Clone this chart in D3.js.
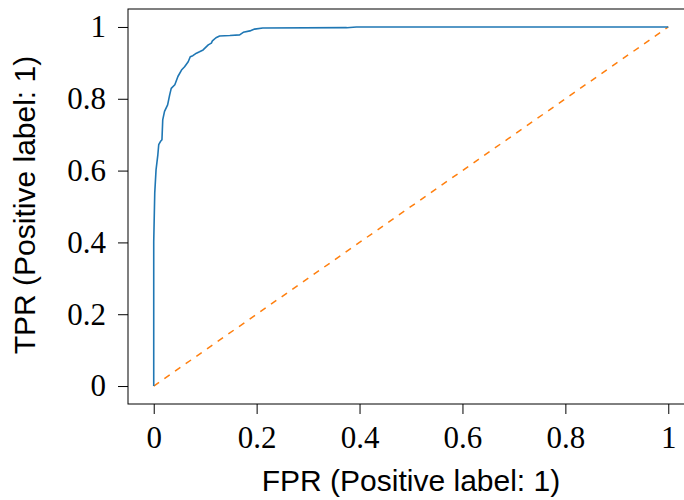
<!DOCTYPE html>
<html>
<head>
<meta charset="utf-8">
<script src="https://cdn.jsdelivr.net/npm/d3@7"></script>
<style>
  body { margin: 0; background: #fff; }
</style>
</head>
<body>
<div id="chart"></div>
<script>
// ROC curve values
const fpr = [0, 0, 0.002, 0.0045, 0.008, 0.0097, 0.013, 0.016, 0.0175, 0.021, 0.024, 0.027, 0.029,
  0.031, 0.034, 0.041, 0.047, 0.054, 0.060, 0.067, 0.071, 0.076, 0.083, 0.089, 0.096, 0.106,
  0.112, 0.114, 0.121, 0.128, 0.148, 0.167, 0.174, 0.187, 0.196, 0.212, 0.375, 0.394, 1];
const tpr = [0, 0.402, 0.538, 0.602, 0.644, 0.672, 0.681, 0.686, 0.741, 0.765, 0.774, 0.783, 0.797,
  0.811, 0.829, 0.839, 0.862, 0.880, 0.889, 0.903, 0.917, 0.920, 0.927, 0.931, 0.936, 0.950,
  0.955, 0.961, 0.970, 0.975, 0.976, 0.978, 0.985, 0.989, 0.994, 0.997, 0.998, 1, 1];
const chanceX = [0, 1];
const chanceY = [0, 1];
const tickValues = [0, 0.2, 0.4, 0.6, 0.8, 1];
const tickLabels = ["0", "0.2", "0.4", "0.6", "0.8", "1"];

const W = 684, H = 500;
const margin = {top: 9, right: -10, bottom: 96, left: 128};
const width = W - margin.left - margin.right,
      height = H - margin.top - margin.bottom;

const svg = d3.select("#chart")
    .append("svg")
    .attr("width", W)
    .attr("height", H);

const g = svg.append("g")
    .attr("transform", `translate(${margin.left},${margin.top})`);

const x = d3.scaleLinear().domain([-0.05, 1.05]).range([0, width]);
const y = d3.scaleLinear().domain([-0.05, 1.05]).range([height, 0]);

const fmt = d => tickLabels[tickValues.indexOf(d)];

// axes
const xAxis = g.append("g")
    .attr("transform", `translate(0,${height})`)
    .call(d3.axisBottom(x).tickValues(tickValues).tickFormat(fmt).tickSize(10).tickSizeOuter(0).tickPadding(12));
const yAxis = g.append("g")
    .call(d3.axisLeft(y).tickValues(tickValues).tickFormat(fmt).tickSize(10).tickSizeOuter(0).tickPadding(12));

[xAxis, yAxis].forEach(a => {
  a.select(".domain").remove();
  a.selectAll(".tick line").attr("stroke", "#000").attr("stroke-width", 1);
  a.selectAll(".tick text")
    .style("font-family", "'Liberation Serif', serif")
    .style("font-size", "31px")
    .attr("fill", "#000");
});

// frame
g.append("rect")
    .attr("x", 0).attr("y", 0)
    .attr("width", width).attr("height", height)
    .attr("fill", "none")
    .attr("stroke", "#000")
    .attr("stroke-width", 1);

const line = d3.line().x(d => x(d[0])).y(d => y(d[1]));

// chance line
g.append("path")
    .datum(d3.zip(chanceX, chanceY))
    .attr("d", line)
    .attr("fill", "none")
    .attr("stroke", "#ff7f0e")
    .attr("stroke-width", 1.5)
    .attr("stroke-dasharray", "6.5,6.5");

// roc curve
g.append("path")
    .datum(d3.zip(fpr, tpr))
    .attr("d", line)
    .attr("fill", "none")
    .attr("stroke", "#1f77b4")
    .attr("stroke-width", 1.6)
    .attr("stroke-linejoin", "round");

// axis labels
svg.append("text")
    .attr("x", 411)
    .attr("y", 491)
    .attr("text-anchor", "middle")
    .style("font-family", "'Liberation Sans', sans-serif")
    .style("font-size", "30px")
    .text("FPR (Positive label: 1)");

svg.append("text")
    .attr("transform", "translate(35,205) rotate(-90)")
    .attr("text-anchor", "middle")
    .style("font-family", "'Liberation Sans', sans-serif")
    .style("font-size", "30px")
    .text("TPR (Positive label: 1)");
</script>
</body>
</html>
